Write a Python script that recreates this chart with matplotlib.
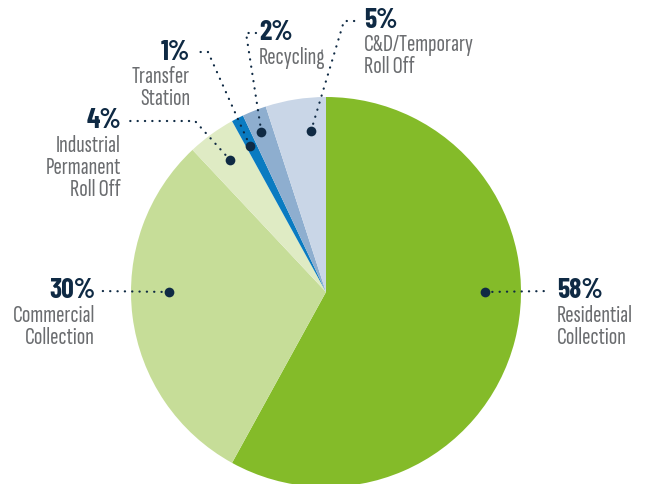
import numpy as np
import matplotlib
matplotlib.use("Agg")
from matplotlib import pyplot as plt

# data, clockwise from the top
categories = ["Residential\nCollection", "Commercial\nCollection",
              "Industrial\nPermanent\nRoll Off", "Transfer\nStation",
              "Recycling", "C&D/Temporary\nRoll Off"]
shares = [58, 30, 4, 1, 2, 5]
colors = ["#84bb29", "#c6dd98", "#dfebc4", "#0a7bc1", "#8eaecf", "#c9d6e7"]

# layout (pixels, y measured from the bottom)
W, H = 649, 484
cx, cy, R = 326, 192, 195
anchor_ang = [0, 180, 126, 117.5, 112, 95.3]     # where the dots sit
anchor_r = [0.815, 0.805, 0.835, 0.845, 0.885, 0.83]
elbows = [None, None, (195, 363), (208, 432), (246, 451), (344, 463)]
line_end = [(550, 193), (100, 193), (127, 363), (194, 432), (256, 451), (360, 463)]
text_xy = [(557, 193), (95, 193), (121, 363), (190, 432), (259, 451), (364, 464)]
text_ha = ["left", "right", "right", "right", "left", "left"]

navy = "#0f2a44"
gray = "#6b6d70"
fam_pct = ["Barlow Condensed", "DejaVu Sans"]
fam_lab = ["Sofia Sans Extra Condensed", "DejaVu Sans"]

fig = plt.figure(figsize=(W / 100, H / 100), dpi=100)
ax = fig.add_axes([0, 0, 1, 1])
ax.pie(shares, colors=colors, startangle=90, counterclock=False,
       center=(cx, cy), radius=R, wedgeprops=dict(linewidth=0))
ax.set_xlim(0, W)
ax.set_ylim(0, H)
ax.set_aspect("equal")
ax.axis("off")

for i, lab in enumerate(categories):
    a = np.radians(anchor_ang[i])
    dx = cx + anchor_r[i] * R * np.cos(a)
    dy = cy + anchor_r[i] * R * np.sin(a)
    xs, ys = [dx], [dy]
    if elbows[i] is not None:
        xs.append(elbows[i][0])
        ys.append(elbows[i][1])
    xs.append(line_end[i][0])
    ys.append(line_end[i][1])
    ax.plot(xs, ys, color=navy, lw=1.6, linestyle=(0, (0.1, 3.2)),
            dash_capstyle="round", solid_capstyle="round")
    ax.plot(dx, dy, "o", color=navy, ms=7, mec="none")

    tx, ty = text_xy[i]
    ax.text(tx, ty, f"{shares[i]}%", ha=text_ha[i], va="center",
            fontsize=20, fontweight="bold", color=navy, family=fam_pct)
    ax.text(tx, ty - 14, lab, ha=text_ha[i], va="top", fontsize=18,
            color=gray, family=fam_lab, linespacing=1.0)

fig.savefig("out.png", dpi=100)
